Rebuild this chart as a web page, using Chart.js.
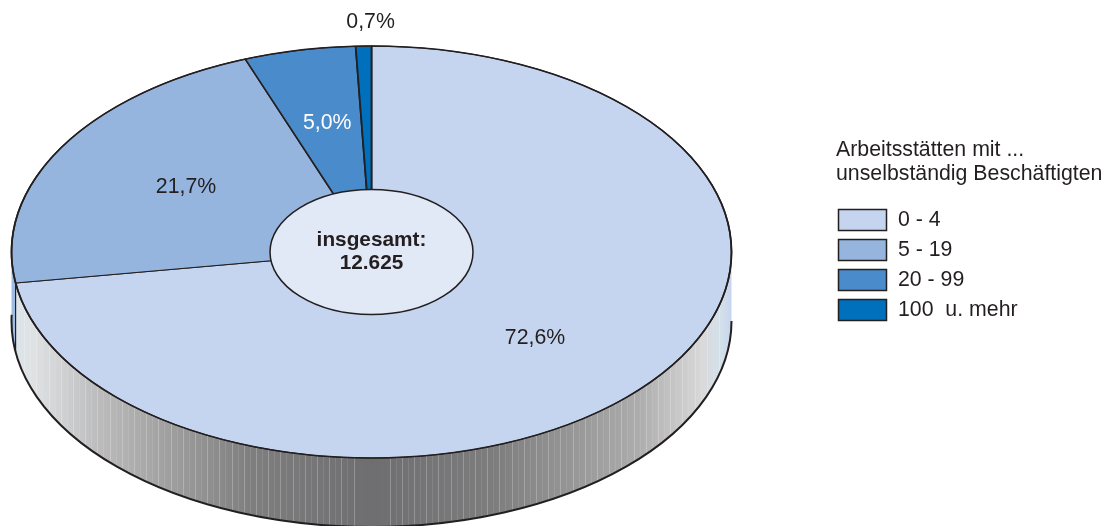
<!DOCTYPE html>
<html>
<head>
<meta charset="utf-8">
<style>
    html, body { margin: 0; padding: 0; background: #fff; }
    canvas { display: block; }
</style>
<script src="https://cdn.jsdelivr.net/npm/chart.js@4/dist/chart.umd.min.js"></script>
</head>
<body>
<canvas id="chart_pie" width="1108" height="526"></canvas>
<script>
'use strict';

/******************************************************************************************
DATA
******************************************************************************************/

const categories = ['0 - 4', '5 - 19', '20 - 99', '100  u. mehr'];
const shares = [72.6, 21.7, 5.0, 0.7];
const share_labels = ['72,6%', '21,7%', '5,0%', '0,7%'];
const slice_colors = ['#c6d5ef', '#95b4de', '#4a8ccb', '#0070bd'];
const legend_title = ['Arbeitsstätten mit ...', 'unselbständig Beschäftigten'];
const total_label = ['insgesamt:', '12.625'];

// label placement along each slice's middle angle (1 = rim of the pie), then a small nudge
const label_radius = [0.61, 0.62, 0.63, 1.12];
const label_shift_x = [-3, 7, 1, 8];
const label_shift_y = [4, 0, -2, 1];
const label_colors = ['#231f20', '#231f20', '#ffffff', '#231f20'];

/******************************************************************************************
PIE GEOMETRY
******************************************************************************************/

const line_color = '#231f20';
const font_family = '"Liberation Sans", Arial, sans-serif';
const radius_x = 360;
const radius_y = 206;
const center_y = 252;
const wall_depth = 69;
const hole_x = 101.5;
const hole_y = 62.5;

function first_arc(chart) {
    return chart.getDatasetMeta(0).data[0];
}

// wall below the top face, with the gray gradient and thin stripes
function draw_wall(ctx, cx, seam_x) {
    const left = cx - radius_x;
    const span = radius_x * 2;
    const seam = (seam_x - left) / span;
    const gradient = ctx.createLinearGradient(left, 0, left + span, 0);
    gradient.addColorStop(0, '#9fbde3');
    gradient.addColorStop(seam, '#9fbde3');
    gradient.addColorStop(seam + 0.0001, '#dbe5ea');
    gradient.addColorStop(0.03, '#dfe2e4');
    gradient.addColorStop(0.12, '#bcbcbd');
    gradient.addColorStop(0.33, '#7f7f80');
    gradient.addColorStop(0.5, '#6e6e70');
    gradient.addColorStop(0.67, '#7d7d7e');
    gradient.addColorStop(0.87, '#acacad');
    gradient.addColorStop(0.96, '#d9d9da');
    gradient.addColorStop(0.985, '#d3e1ea');
    gradient.addColorStop(1, '#c6d5ef');

    ctx.save();
    ctx.beginPath();
    ctx.moveTo(left, center_y);
    ctx.ellipse(cx, center_y + wall_depth, radius_x, radius_y, 0, Math.PI, 0, true);
    ctx.lineTo(left + span, center_y);
    ctx.closePath();
    ctx.fillStyle = gradient;
    ctx.fill();
    ctx.clip();

    ctx.lineWidth = 1;
    for (let k = 0; 18 + k * 6.1 < radius_x - 10; k++) {
        ctx.strokeStyle = 'rgba(255, 255, 255, ' + (k % 2 ? 0.1 : 0.24) + ')';
        [cx - 18 - k * 6.1, cx + 18 + k * 6.1].forEach(function(x) {
            ctx.beginPath();
            ctx.moveTo(Math.round(x) + 0.5, center_y);
            ctx.lineTo(Math.round(x) + 0.5, center_y + wall_depth + radius_y);
            ctx.stroke();
        });
    }
    ctx.restore();

    // lower rim of the wall
    ctx.beginPath();
    ctx.ellipse(cx, center_y + wall_depth, radius_x, radius_y, 0, 0, Math.PI + 0.03);
    ctx.strokeStyle = line_color;
    ctx.lineWidth = 2;
    ctx.stroke();
}

function draw_text_lines(ctx, lines, x, y, step) {
    lines.forEach(function(line, i) {
        ctx.fillText(line, x, y + i * step);
    });
}

function draw_legend(ctx) {
    ctx.textAlign = 'left';
    ctx.textBaseline = 'middle';
    ctx.fillStyle = line_color;
    ctx.font = '21.3px ' + font_family;
    draw_text_lines(ctx, legend_title, 836, 150, 24);

    categories.forEach(function(name, i) {
        const y = 209 + i * 30;
        ctx.fillStyle = slice_colors[i];
        ctx.fillRect(838.5, y + 0.5, 48, 21);
        ctx.strokeStyle = line_color;
        ctx.lineWidth = 1.5;
        ctx.strokeRect(838.5, y + 0.5, 48, 21);
        ctx.fillStyle = line_color;
        ctx.fillText(name, 898, y + 11);
    });
}

/******************************************************************************************
PLUGIN: SQUASH THE DOUGHNUT INTO AN ELLIPSE AND ADD THE 3D WALL
******************************************************************************************/

const pie_3d = {
    id: 'pie_3d',
    beforeDatasetsDraw: function(chart) {
        const ctx = chart.ctx;
        const arc = first_arc(chart);
        const seam_x = arc.x + radius_x * Math.cos(arc.endAngle);
        draw_wall(ctx, arc.x, seam_x);

        ctx.save();
        ctx.translate(0, center_y);
        ctx.scale(1, radius_y / radius_x);
        ctx.translate(0, -arc.y);
    },
    afterDatasetsDraw: function(chart) {
        const ctx = chart.ctx;
        ctx.restore();

        const arcs = chart.getDatasetMeta(0).data;
        const cx = arcs[0].x;

        // rim of the top face
        ctx.beginPath();
        ctx.ellipse(cx, center_y, radius_x, radius_y, 0, 0, Math.PI * 2);
        ctx.strokeStyle = line_color;
        ctx.lineWidth = 1.6;
        ctx.stroke();

        // seam where the second slice meets the first on the wall
        const seam_angle = arcs[0].endAngle;
        const seam_x = cx + radius_x * Math.cos(seam_angle);
        const seam_y = center_y + radius_y * Math.sin(seam_angle);
        ctx.beginPath();
        ctx.moveTo(seam_x, seam_y);
        ctx.lineTo(seam_x, seam_y + wall_depth);
        ctx.lineWidth = 1.2;
        ctx.stroke();

        // center ellipse with the total
        ctx.beginPath();
        ctx.ellipse(cx, center_y, hole_x, hole_y, 0, 0, Math.PI * 2);
        ctx.fillStyle = '#e1e8f6';
        ctx.fill();
        ctx.lineWidth = 1.5;
        ctx.stroke();

        ctx.textAlign = 'center';
        ctx.textBaseline = 'middle';
        ctx.fillStyle = line_color;
        ctx.font = 'bold 20.8px ' + font_family;
        draw_text_lines(ctx, total_label, cx, 240, 23);

        // share labels
        ctx.font = '21.3px ' + font_family;
        arcs.forEach(function(item, i) {
            const mid = (item.startAngle + item.endAngle) / 2;
            const x = cx + radius_x * label_radius[i] * Math.cos(mid) + label_shift_x[i];
            const y = center_y + radius_y * label_radius[i] * Math.sin(mid) + label_shift_y[i];
            ctx.fillStyle = label_colors[i];
            ctx.fillText(share_labels[i], x, y);
        });

        draw_legend(ctx);
    }
};

/******************************************************************************************
CHART
******************************************************************************************/

new Chart(document.getElementById('chart_pie').getContext('2d'), {
    type: 'pie',
    data: {
        labels: categories,
        datasets: [{
            data: shares,
            backgroundColor: slice_colors,
            borderColor: line_color,
            borderWidth: 1.8,
            clip: false
        }]
    },
    options: {
        responsive: false,
        animation: false,
        events: [],
        radius: radius_x,
        layout: { padding: { left: 0, right: 365, top: 0, bottom: 0 } },
        plugins: {
            legend: { display: false },
            tooltip: { enabled: false }
        }
    },
    plugins: [pie_3d]
});
</script>
</body>
</html>
